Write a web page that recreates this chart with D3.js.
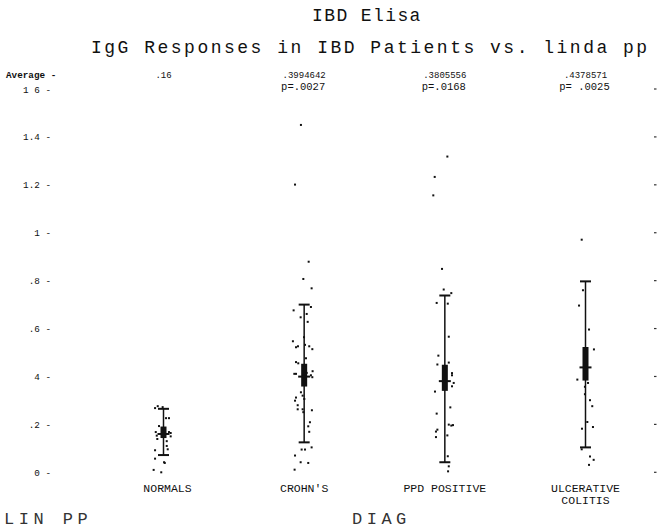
<!DOCTYPE html>
<html>
<head>
<meta charset="utf-8">
<script src="https://cdn.jsdelivr.net/npm/d3@7"></script>
<style>
  html, body { margin: 0; padding: 0; background: #fff; }
  svg { display: block; }
  .mono { font-family: "Liberation Mono", "DejaVu Sans Mono", monospace; fill: #111; }
</style>
</head>
<body>
<svg id="chart" width="659" height="529"></svg>
<script>
// ---- data ----
const categories = ["NORMALS", "CROHN'S", "PPD POSITIVE", "ULCERATIVE COLITIS"];
const means = [0.16, 0.3994642, 0.3805556, 0.4378571];
const meanLabels = [".16", ".3994642", ".3805556", ".4378571"];
const pValues = ["", "p=.0027", "p=.0168", "p= .0025"];
const whiskerLow = [0.072, 0.125, 0.042, 0.104];
const whiskerHigh = [0.265, 0.700, 0.738, 0.797];
const boxLow = [0.143, 0.358, 0.340, 0.383];
const boxHigh = [0.191, 0.453, 0.449, 0.523];

const yTickValues = [0, 0.2, 0.4, 0.6, 0.8, 1, 1.2, 1.4, 1.6];
const yTickLabels = ["0", ".2", "4", ".6", ".8", "1", "1.2", "1.4", "1 6"];

// individual responses; jitter is horizontal spread in percent of a category step
const normalsValues = [0.268, 0.276, 0.272, 0.226, 0.226, 0.193, 0.168, 0.153, 0.168, 0.164, 0.150,
  0.139, 0.130, 0.110, 0.096, 0.092, 0.057, 0.042, 0.039, 0.010, 0.000];
const normalsJitter = [-6.0, -4.1, -0.6, 1.8, 3.9, -3.2, -5.5, -4.8, 3.9, 5.1, 5.1,
  -4.4, 2.3, 2.3, 3.0, -6.0, -6.0, 0.4, 0.9, -7.0, -1.6];

const crohnsValues = [1.45, 1.201, 0.879, 0.807, 0.768, 0.690, 0.676, 0.647, 0.661, 0.628, 0.564,
  0.547, 0.522, 0.526, 0.532, 0.526, 0.514, 0.476, 0.460, 0.455, 0.411, 0.411, 0.415, 0.422,
  0.405, 0.397, 0.334, 0.320, 0.312, 0.299, 0.306, 0.280, 0.263, 0.263, 0.251, 0.259, 0.209,
  0.192, 0.169, 0.095, 0.095, 0.104, 0.070, 0.042, 0.039, 0.011];
const crohnsJitter = [-2.3, -6.5, 3.2, -0.6, 5.3, 4.8, -7.5, -2.5, 1.8, 2.5, -0.1,
  -8.0, -5.8, -4.4, 0.6, 3.6, 5.8, 1.3, -5.8, -4.2, -7.0, -5.8, 1.8, 6.0,
  4.8, 5.8, -2.3, -1.1, -5.8, -6.5, 0.1, -4.6, -4.6, -1.1, -0.6, 5.5, 4.1,
  2.9, 3.6, -1.8, 0.6, 5.3, -6.5, -2.5, 2.9, -6.8];

const ppdValues = [1.318, 1.233, 1.156, 0.849, 0.763, 0.748, 0.707, 0.704, 0.566, 0.487, 0.450,
  0.458, 0.337, 0.414, 0.405, 0.373, 0.359, 0.271, 0.245, 0.199, 0.195, 0.197, 0.178, 0.170,
  0.154, 0.147, 0.067, 0.025, 0.004];
const ppdJitter = [1.8, -7.2, -8.2, -2.0, -0.8, 4.6, -5.8, 2.1, 2.8, -4.6, -5.3,
  2.8, -7.0, 5.1, 5.1, 6.3, 5.1, 3.9, -5.8, 2.8, 4.6, 5.8, -5.3, -6.3,
  1.8, -6.3, 2.1, 2.8, 2.3];

const ucValues = [0.971, 0.760, 0.696, 0.596, 0.513, 0.387, 0.373, 0.357, 0.326, 0.301, 0.276,
  0.210, 0.182, 0.189, 0.096, 0.066, 0.052, 0.031];
const ucJitter = [-2.7, -1.8, -4.6, 2.5, 6.0, -5.8, 1.8, -0.4, -0.4, 3.2, 4.8,
  1.3, -2.5, 5.3, -2.7, 3.2, 5.8, 2.5];

const groupValues = [normalsValues, crohnsValues, ppdValues, ucValues];
const groupJitter = [normalsJitter, crohnsJitter, ppdJitter, ucJitter];

// ---- scales ----
const svg = d3.select("#chart");
const y = d3.scaleLinear().domain([0, 1.6]).range([472.3, 89.0]);
const x = d3.scaleLinear().domain([0, 3]).range([163.5, 585.5]);

// ---- titles ----
svg.append("text").attr("class", "mono")
  .attr("x", 312).attr("y", 21)
  .style("font-size", "18px").style("letter-spacing", "1.4px")
  .text("IBD Elisa");
svg.append("text").attr("class", "mono")
  .attr("x", 91).attr("y", 53)
  .style("font-size", "18px").style("letter-spacing", "2.5px")
  .text("IgG Responses in IBD Patients vs. linda pp");

// ---- left axis (text ticks) ----
const tickFont = "9.3px";
svg.append("g").selectAll("text")
  .data(yTickValues)
  .join("text")
  .attr("class", "mono")
  .attr("x", 51)
  .attr("y", d => y(d) + 3.5)
  .attr("text-anchor", "end")
  .style("font-size", tickFont)
  .text((d, i) => yTickLabels[i] + " -");

// right axis tick stubs
svg.append("g").selectAll("line")
  .data(yTickValues)
  .join("line")
  .attr("x1", 654).attr("x2", 656.5)
  .attr("y1", d => y(d)).attr("y2", d => y(d))
  .attr("stroke", "#333").attr("stroke-width", 1.2);

// ---- average row ----
svg.append("text").attr("class", "mono")
  .attr("x", 6).attr("y", 78)
  .style("font-size", tickFont).style("font-weight", "bold")
  .text("Average -");

svg.append("g").selectAll("text")
  .data(meanLabels)
  .join("text")
  .attr("class", "mono")
  .attr("x", (d, i) => x(i))
  .attr("y", 78)
  .attr("text-anchor", "middle")
  .style("font-size", "9px")
  .text(d => d);

svg.append("g").selectAll("text")
  .data(pValues)
  .join("text")
  .attr("class", "mono")
  .attr("x", (d, i) => x(i) - 1)
  .attr("y", 90)
  .attr("text-anchor", "middle")
  .style("font-size", "10.5px")
  .text(d => d);

// ---- groups ----
const groups = svg.append("g");
categories.forEach((cat, i) => {
  const cx = x(i);
  const g = groups.append("g");

  // points
  g.selectAll("rect.pt")
    .data(groupValues[i].map((v, k) => ({ v, j: groupJitter[i][k] })))
    .join("rect")
    .attr("class", "pt")
    .attr("x", d => x(i + d.j / 100) - 1)
    .attr("y", d => y(d.v) - 1)
    .attr("width", 2).attr("height", 2)
    .attr("fill", "#111");

  // whisker
  g.append("line")
    .attr("x1", cx).attr("x2", cx)
    .attr("y1", y(whiskerLow[i])).attr("y2", y(whiskerHigh[i]))
    .attr("stroke", "#111").attr("stroke-width", 1.5);
  [whiskerLow[i], whiskerHigh[i]].forEach(v => {
    g.append("line")
      .attr("x1", cx - 5.5).attr("x2", cx + 5.5)
      .attr("y1", y(v)).attr("y2", y(v))
      .attr("stroke", "#111").attr("stroke-width", 2);
  });

  // box
  g.append("rect")
    .attr("x", cx - 3).attr("width", 6)
    .attr("y", y(boxHigh[i]))
    .attr("height", y(boxLow[i]) - y(boxHigh[i]))
    .attr("fill", "#111");

  // mean marker
  g.append("line")
    .attr("x1", cx - 6).attr("x2", cx + 6)
    .attr("y1", y(means[i])).attr("y2", y(means[i]))
    .attr("stroke", "#111").attr("stroke-width", 2);

  // category label (may wrap onto two lines)
  const words = cat === "ULCERATIVE COLITIS" ? ["ULCERATIVE", "COLITIS"] : [cat];
  words.forEach((w, k) => {
    svg.append("text").attr("class", "mono")
      .attr("x", cx + (i === 0 ? 4 : 0))
      .attr("y", 492 + k * 12)
      .attr("text-anchor", "middle")
      .style("font-size", "11.5px")
      .text(w);
  });
});

// ---- axis titles ----
svg.append("text").attr("class", "mono")
  .attr("x", 4).attr("y", 524)
  .style("font-size", "17px").style("letter-spacing", "4.5px")
  .style("fill", "#333")
  .text("LIN PP");
svg.append("text").attr("class", "mono")
  .attr("x", 352).attr("y", 524)
  .style("font-size", "17px").style("letter-spacing", "4.5px")
  .style("fill", "#333")
  .text("DIAG");
</script>
</body>
</html>
